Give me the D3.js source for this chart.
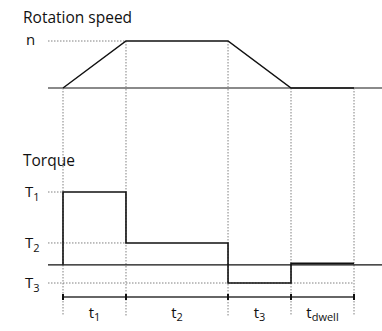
<!DOCTYPE html>
<html>
<head>
<meta charset="utf-8">
<script src="https://cdn.jsdelivr.net/npm/d3@7/dist/d3.min.js"></script>
<style>
  html, body { margin: 0; padding: 0; background: #fff; }
  svg { display: block; font-family: "Open Sans", Lato, sans-serif; }
</style>
</head>
<body>
<svg id="chart" width="382" height="331"></svg>
<script>
// Motion profile: phase durations (time units)
const phaseNames = ["1", "2", "3", "dwell"];
const durations = [1, 1.62, 1, 1];

// Rotation speed at each phase boundary (fraction of n)
const speedAtBoundary = [0, 1, 1, 0, 0];
const speedLabel = "n";

// Torque held during each phase (fraction of T1)
const torqueValues = [1.0, 0.3, -0.25, 0.02];
const torqueLabels = ["1", "2", "3"];
const torqueLevels = [1.0, 0.3, -0.25];

const svg = d3.select("#chart");

// Phase boundaries as cumulative time
const bounds = [0];
durations.forEach(d => bounds.push(bounds[bounds.length - 1] + d));
const tEnd = bounds[bounds.length - 1];

const x = d3.scaleLinear().domain([0, tEnd]).range([63, 354]);
const ySpeed = d3.scaleLinear().domain([0, 1]).range([88, 41]);
const yTorque = d3.scaleLinear().domain([-0.25, 1]).range([283, 192]);
const axisLeft = 48, axisRight = 382;
const timeAxisY = 297;

const dotted = sel => sel.attr("stroke", "#808080").attr("stroke-width", 1)
  .attr("stroke-dasharray", "1.5,1.5").attr("fill", "none");

// Vertical guides at each phase boundary
svg.append("g").selectAll("line").data(bounds).join("line")
  .attr("x1", d => x(d)).attr("x2", d => x(d))
  .attr("y1", (d, i) => ySpeed(speedAtBoundary[i]))
  .attr("y2", 316)
  .call(dotted);

// Titles
svg.append("text").attr("x", 23).attr("y", 23).attr("font-size", 15.5)
  .attr("fill", "#111").text("Rotation speed");
svg.append("text").attr("x", 23).attr("y", 166).attr("font-size", 15.5)
  .attr("fill", "#111").text("Torque");

// ---- Speed panel ----
svg.append("line").attr("x1", axisLeft).attr("x2", axisRight)
  .attr("y1", ySpeed(0)).attr("y2", ySpeed(0))
  .attr("stroke", "#8a8a8a").attr("stroke-width", 2);

svg.append("line").attr("x1", axisLeft).attr("x2", x(bounds[1]))
  .attr("y1", ySpeed(1)).attr("y2", ySpeed(1)).call(dotted);

svg.append("text").attr("x", 26).attr("y", 45).attr("font-size", 15)
  .attr("fill", "#111").text(speedLabel);

const speedLine = d3.line().x(d => x(d[0])).y(d => ySpeed(d[1]));
svg.append("path")
  .attr("d", speedLine(bounds.map((b, i) => [b, speedAtBoundary[i]])))
  .attr("fill", "none").attr("stroke", "#111").attr("stroke-width", 1.5);

// ---- Torque panel ----
svg.append("line").attr("x1", axisLeft).attr("x2", axisRight)
  .attr("y1", yTorque(0)).attr("y2", yTorque(0))
  .attr("stroke", "#111").attr("stroke-width", 1.2);

// Dotted reference lines for each torque level
const refEnds = [x(bounds[0]), x(bounds[1]), x(bounds[4])];
torqueLevels.forEach((v, i) => {
  svg.append("line").attr("x1", axisLeft).attr("x2", refEnds[i])
    .attr("y1", yTorque(v)).attr("y2", yTorque(v)).call(dotted);
  const t = svg.append("text").attr("x", 25).attr("y", yTorque(v) + 5)
    .attr("font-size", 15).attr("fill", "#111");
  t.append("tspan").text("T");
  t.append("tspan").attr("font-size", 11).attr("dy", 4).text(torqueLabels[i]);
});

// Step profile of torque
const torquePts = [[0, 0]];
torqueValues.forEach((v, i) => {
  torquePts.push([bounds[i], v]);
  torquePts.push([bounds[i + 1], v]);
});
const torqueLine = d3.line().x(d => x(d[0])).y(d => yTorque(d[1]));
svg.append("path").attr("d", torqueLine(torquePts))
  .attr("fill", "none").attr("stroke", "#111").attr("stroke-width", 1.6);

// ---- Time axis with phase ticks ----
svg.append("line").attr("x1", x(0)).attr("x2", x(tEnd))
  .attr("y1", timeAxisY).attr("y2", timeAxisY)
  .attr("stroke", "#333").attr("stroke-width", 1.5);
svg.append("g").selectAll("line").data(bounds).join("line")
  .attr("x1", d => x(d)).attr("x2", d => x(d))
  .attr("y1", timeAxisY - 3).attr("y2", timeAxisY + 3)
  .attr("stroke", "#111").attr("stroke-width", 2);

phaseNames.forEach((name, i) => {
  const cx = (x(bounds[i]) + x(bounds[i + 1])) / 2;
  const t = svg.append("text").attr("x", cx).attr("y", 318)
    .attr("text-anchor", "middle").attr("font-size", 15).attr("fill", "#111");
  t.append("tspan").text("t");
  t.append("tspan").attr("font-size", 11).attr("dy", 3).text(name);
});
</script>
</body>
</html>
